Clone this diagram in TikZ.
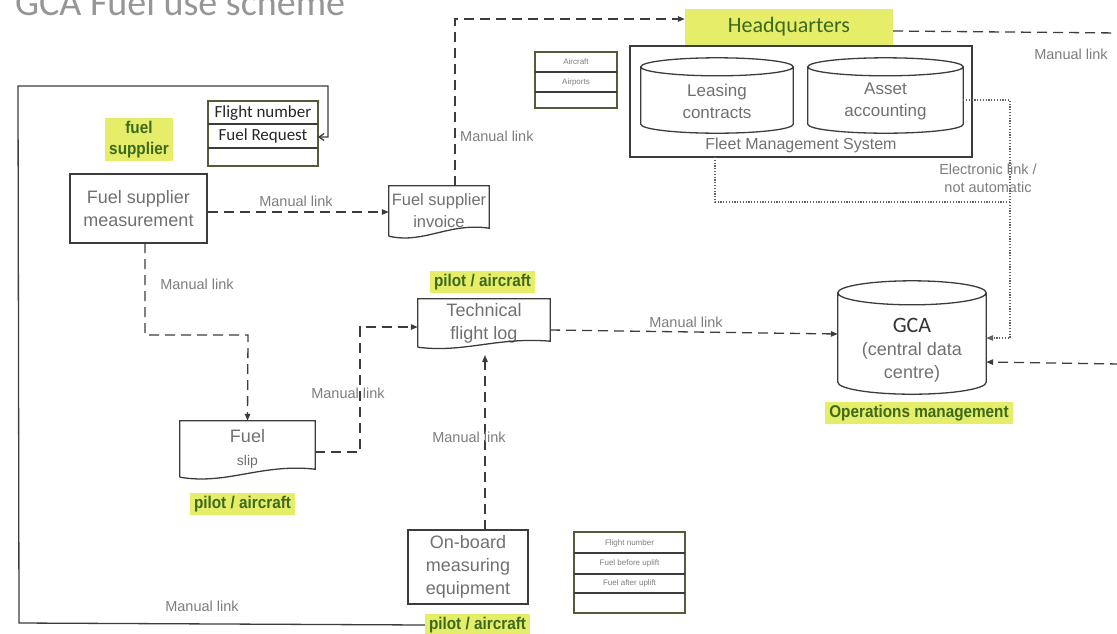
\documentclass[tikz,border=0pt]{standalone}
\usepackage{fontspec}
\setmainfont{Liberation Sans}
\newfontfamily\calf{Carlito}
\newfontfamily\hlf[FakeStretch=0.9]{Liberation Sans}
\usetikzlibrary{arrows.meta,calc}
\definecolor{hly}{RGB}{230,238,105}
\definecolor{hlg}{RGB}{60,105,30}
\definecolor{ln}{RGB}{60,60,60}
\definecolor{tg}{RGB}{112,112,112}
\definecolor{lg}{RGB}{125,125,125}
\definecolor{olv}{RGB}{85,90,55}
\definecolor{ttl}{RGB}{150,150,150}

% cylinder: node = body between the centres of the top and bottom ellipses
\newcommand{\cylout}[2]{%
  \draw[boxline] let \p1=(#1.north west), \p2=(#1.south east), \n1={(\x2-\x1)/2} in
   (\x1,\y1) -- (\x1,\y2) arc[start angle=180,end angle=360,x radius=\n1,y radius=#2]
   -- (\x2,\y1) arc[start angle=0,end angle=360,x radius=\n1,y radius=#2];}
\newcommand{\docout}[2]{%
  \draw[boxline] let \p1=(#1.north west), \p2=(#1.south east), \n1={\x2-\x1} in
   (\x1,\y2) -- (\p1) -- (\x2,\y1) -- (\x2,\y2+#2)
   .. controls (\x2-0.4*\n1,\y2+1.75*#2) and (\x1+0.35*\n1,\y2-#2) .. (\x1,\y2);}

\tikzset{
  x=1pt,y=1pt,
  boxline/.style={draw=ln,line width=1.3pt},
  plain/.style={rectangle,align=center,text=tg,font=\fontsize{18}{23}\selectfont,inner sep=0pt},
  box/.style={plain,boxline},
  hl/.style={fill=hly,text=hlg,font=\hlf\bfseries\fontsize{17}{21}\selectfont,inner ysep=3pt,inner xsep=4pt,align=center},
  lbl/.style={text=lg,font=\fontsize{14.5}{18}\selectfont,inner sep=1pt,align=center},
  mlink/.style={draw=ln,line width=1.3pt,dash pattern=on 10pt off 6pt},
  elink/.style={draw=ln!80,line width=1.1pt,dash pattern=on 1.2pt off 1.6pt},
  tip/.style={-{Triangle[length=7pt,width=5.5pt]}},
  tbl/.style={draw=olv,line width=2.6pt,rectangle,inner sep=0pt},
  rowtxt/.style={inner sep=0pt,text=black!85,font=\calf\fontsize{17}{20}\selectfont},
  smalltxt/.style={inner sep=0pt,text=lg,font=\fontsize{8}{10}\selectfont},
  sep/.style={draw=ln,line width=1.2pt},
}

\begin{document}
\begin{tikzpicture}
\useasboundingbox (0,0) rectangle (1117,-633);
\clip (0,0) rectangle (1117,-633);

% title
\node[anchor=base west,inner sep=0pt,text=ttl,font=\calf\fontsize{38}{42}\selectfont] (title) at (15,-15) {GCA Fuel use scheme};

% fuel request table
\node[tbl,minimum width=110,minimum height=65] (fr) at (263,-133.5) {};
\node[rowtxt] (fr1) at (263,-113) {Flight number};
\node[rowtxt] (fr2) at (263,-136) {Fuel Request};
\coordinate (fr2e) at (318,-137);
\draw[sep] (208,-124) -- (318,-124);
\draw[sep] (208,-148) -- (318,-148);

\node[hl,minimum width=62,minimum height=41] (hlfs) at (139,-139.5) {fuel\\supplier};

% boxes
\node[box,minimum width=137,minimum height=69] (fsm) at (138.5,-208.5) {Fuel supplier\\measurement};
\node[plain,minimum width=100,minimum height=50,font=\fontsize{16.5}{22}\selectfont] (fsi) at (439,-211) {Fuel supplier\\invoice};
\docout{fsi}{8pt}

\node[hl,fill=hly,text=hlg,font=\calf\fontsize{22}{26}\selectfont,minimum width=208,minimum height=37,inner sep=0pt] (hq) at (789,-27) {Headquarters};

% aircraft table
\node[tbl,minimum width=82,minimum height=56] (ac) at (576,-80) {};
\node[smalltxt] (ac1) at (576,-62) {Aircraft};
\node[smalltxt] (ac2) at (576,-82) {Airports};
\draw[sep] (535,-72) -- (617,-72);
\draw[sep] (535,-92) -- (617,-92);

% fleet management system
\node[boxline,rectangle,minimum width=342,minimum height=111,inner sep=0pt] (fms) at (801,-101.5) {};
\node[rectangle,minimum width=152,minimum height=57,inner sep=0pt] (lc) at (717,-95.5) {};
\cylout{lc}{9pt}
\node[plain,font=\fontsize{17}{22}\selectfont] (lct) at (717,-101) {Leasing\\contracts};
\node[rectangle,minimum width=155,minimum height=57,inner sep=0pt] (aa) at (885.5,-95.5) {};
\cylout{aa}{9pt}
\node[plain,font=\fontsize{17}{22}\selectfont] (aat) at (885.5,-101) {Asset\\accounting};
\node[lbl,text=tg,font=\fontsize{16}{20}\selectfont] (fmsl) at (801,-145) {Fleet Management System};

\node[lbl] (el) at (988,-178) {Electronic link /\\not automatic};

% GCA
\node[rectangle,minimum width=148,minimum height=89,inner sep=0pt] (gca) at (912,-337.5) {};
\cylout{gca}{12pt}
\node[plain] (gcat) at (912,-350) {{\calf\fontsize{22}{24}\selectfont\color{black!80}GCA}\\(central data\\centre)};
\node[hl] (om) at (919,-413) {Operations management};

% technical flight log
\node[hl] (hltl) at (482.5,-282) {pilot / aircraft};
\node[plain,minimum width=132,minimum height=48] (tfl) at (484,-323) {Technical\\flight log};
\docout{tfl}{6pt}

% fuel slip
\node[plain,minimum width=135,minimum height=56] (fs) at (247.5,-449) {Fuel\\{\fontsize{14}{16}\selectfont slip}};
\docout{fs}{8pt}
\node[hl] (hlfs2) at (242.5,-504) {pilot / aircraft};

% on-board
\node[box,minimum width=120,minimum height=74] (ob) at (468,-567) {On-board\\measuring\\equipment};
\node[hl] (hlob) at (477.5,-625) {pilot / aircraft};

% on-board table
\node[tbl,minimum width=111,minimum height=81] (obt) at (629.5,-572.5) {};
\node[smalltxt] (obt1) at (629.5,-543) {Flight number};
\node[smalltxt] (obt2) at (629.5,-563.5) {Fuel before uplift};
\node[smalltxt] (obt3) at (629.5,-583.5) {Fuel after uplift};
\draw[sep] (574,-553) -- (685,-553);
\draw[sep] (574,-574) -- (685,-574);
\draw[sep] (574,-593) -- (685,-593);

% ---- connectors ----
% outer solid loop
\draw[boxline,-{Straight Barb[length=5pt,width=7pt]}] (hlob.west) -- (19,-623) -- (18,-86) -- (328,-86) |- (fr2e);
\node[lbl] (ml0) at (202,-606) {Manual link};

% fsm -> invoice
\draw[mlink,tip] (fsm.east |- 0,-212) -- (fsi.west |- 0,-212);
\node[lbl] (ml1) at (296,-201) {Manual link};

% invoice -> HQ
\draw[mlink,tip] (455,-186) -- (455,-19) -- (hq.west |- 0,-19);
\node[lbl,anchor=west] (ml2) at (459,-136) {Manual link};

% HQ -> right edge
\coordinate (re1) at (1120,-33);
\draw[mlink] (hq.east |- 0,-31) -- (re1);
\node[lbl] (ml3) at (1071,-54) {Manual link};

% electronic links
\coordinate (ej) at (1010,-202);
\draw[elink] (aa.east |- 0,-100) -- (1010,-100) -- (ej);
\draw[elink] (715,-157) -- (715,-202) -- (ej);
\draw[elink,tip] (ej) |- (gca.east |- 0,-338);

% right edge -> GCA
\coordinate (re2) at (1120,-364);
\draw[mlink,tip] (re2) -- (gca.east |- 0,-362);

% tfl -> GCA
\draw[mlink,tip] (tfl.east |- 0,-330) -- (gca.west |- 0,-334);
\node[lbl] (ml4) at (686,-322) {Manual link};

% fsm -> fuel slip
\draw[mlink,tip] (145,-243) -- (145,-335) -- (248,-335) -- (fs.north);
\node[lbl] (ml5) at (197,-284) {Manual link};

% fuel slip -> tfl
\draw[mlink,tip] (fs.east |- 0,-452) -- (360,-452) -- (360,-327) -- (tfl.west |- 0,-327);
\node[lbl] (ml6) at (348,-393) {Manual link};

% on-board -> tfl
\draw[mlink,tip] (485,-530) -- (485,-355);
\node[lbl] (ml7) at (469,-437) {Manual link};
\end{tikzpicture}
\end{document}
